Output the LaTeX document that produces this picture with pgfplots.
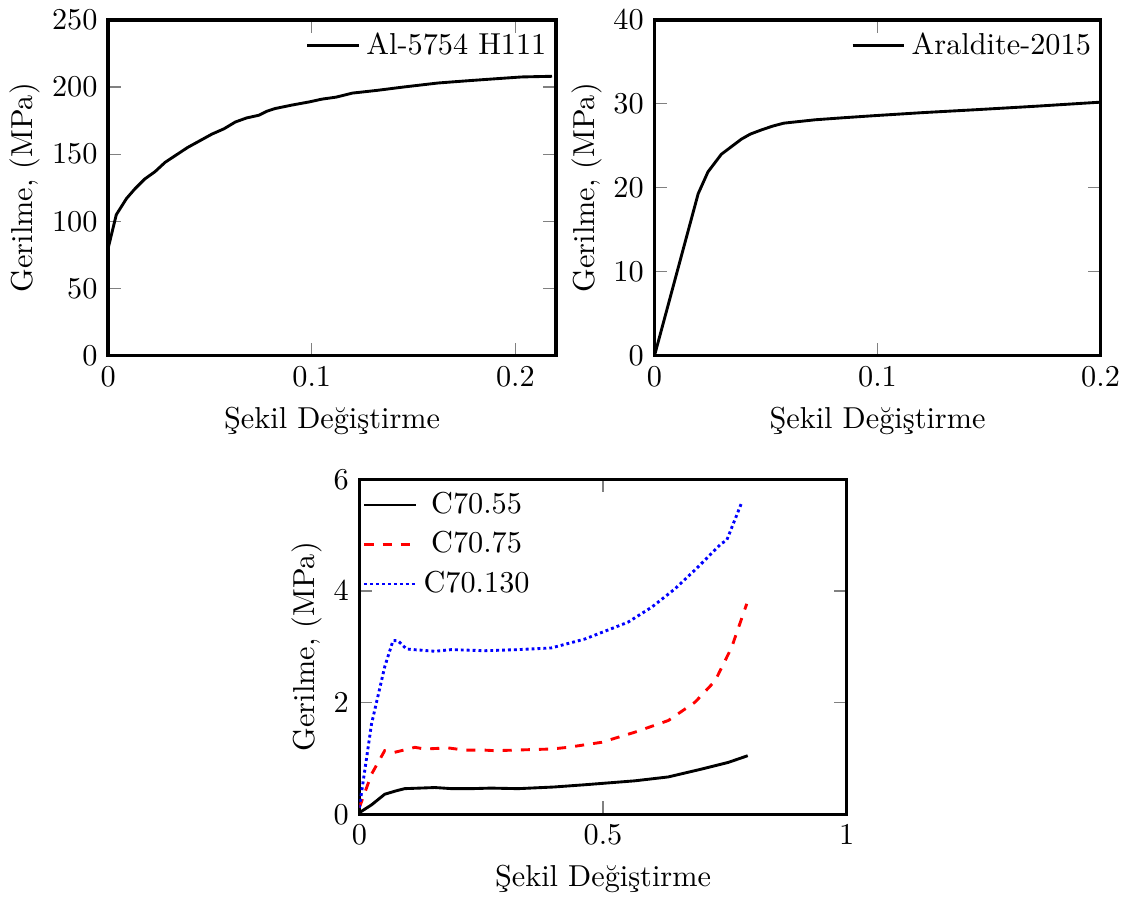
\documentclass[border=0pt]{standalone}
\usepackage{pgfplots}
\pgfplotsset{compat=1.18}

\pgfplotsset{
  mech/.style={
    scale only axis,
    axis line style={line width=1.1pt},
    tick style={gray, thin},
    ylabel={Gerilme, (MPa)},
    xlabel={Şekil Değiştirme},
    ylabel shift=-3pt,
    legend style={draw=none, fill=none, inner xsep=1pt},
    every axis plot/.append style={line width=0.95pt},
  }
}

\begin{document}
\begin{tikzpicture}
  % Al-5754 H111
  \begin{axis}[mech,
      width=148pt, height=111pt,
      xmin=0, xmax=0.22, ymin=0, ymax=250,
      xtick={0,0.1,0.2}, ytick={0,50,...,250},
      legend style={at={(1,1)}, anchor=north east}]
    \addplot[black] coordinates {
      (0,80) (0.004,105) (0.009,117) (0.013,124) (0.018,131.6) (0.023,137)
      (0.028,144) (0.033,149) (0.039,155) (0.045,160) (0.051,165) (0.057,169)
      (0.0625,174) (0.068,177) (0.074,179) (0.078,182) (0.082,184) (0.09,186.5)
      (0.099,189) (0.105,191) (0.112,192.5) (0.120,195.5) (0.132,197.5)
      (0.145,200) (0.162,203) (0.175,204.5) (0.186,205.7) (0.203,207.5) (0.218,208)
    };
    \legend{Al-5754 H111}
  \end{axis}

  % Araldite-2015
  \begin{axis}[mech, at={(180.5pt,0pt)},
      width=147.4pt, height=111pt,
      xmin=0, xmax=0.2, ymin=0, ymax=40,
      xtick={0,0.1,0.2}, ytick={0,10,...,40},
      legend style={at={(1,1)}, anchor=north east}]
    \addplot[black] coordinates {
      (0,0) (0.0196,19.3) (0.024,21.9) (0.030,24.0) (0.035,25.0) (0.039,25.8)
      (0.043,26.4) (0.048,26.9) (0.053,27.35) (0.058,27.7) (0.065,27.9)
      (0.072,28.1) (0.085,28.35) (0.099,28.6) (0.12,28.95) (0.144,29.3)
      (0.17,29.7) (0.2,30.2)
    };
    \legend{Araldite-2015}
  \end{axis}

  % Foams
  \begin{axis}[mech, at={(83pt,-151.5pt)},
      width=161pt, height=110.7pt,
      xmin=0, xmax=1, ymin=0, ymax=6,
      xtick={0,0.5,1}, ytick={0,2,4,6},
      legend style={at={(0,1)}, anchor=north west, row sep=0.5pt},
      legend cell align=center]
    \addplot[black] coordinates {
      (0,0.03) (0.025,0.17) (0.052,0.36) (0.075,0.42) (0.093,0.46) (0.155,0.48)
      (0.19,0.46) (0.23,0.46) (0.27,0.47) (0.326,0.46) (0.40,0.49) (0.463,0.53)
      (0.565,0.60) (0.634,0.67) (0.702,0.81) (0.757,0.93) (0.797,1.05)
    };
    \addplot[red, dashed] coordinates {
      (0,0.12) (0.025,0.72) (0.052,1.14) (0.072,1.11) (0.114,1.20) (0.134,1.17)
      (0.182,1.19) (0.216,1.15) (0.257,1.15) (0.278,1.14) (0.394,1.17)
      (0.428,1.20) (0.497,1.29) (0.565,1.47) (0.634,1.68) (0.689,2.01)
      (0.730,2.39) (0.764,2.99) (0.795,3.77)
    };
    \addplot[blue, densely dotted] coordinates {
      (0,0.12) (0.025,1.62) (0.052,2.64) (0.069,3.11) (0.079,3.11) (0.097,2.96)
      (0.155,2.92) (0.189,2.95) (0.257,2.93) (0.326,2.95) (0.394,2.98)
      (0.463,3.14) (0.551,3.44) (0.600,3.71) (0.648,4.04) (0.695,4.43)
      (0.743,4.85) (0.754,4.91) (0.784,5.57)
    };
    \legend{C70.55, C70.75, C70.130}
  \end{axis}
\end{tikzpicture}
\end{document}
